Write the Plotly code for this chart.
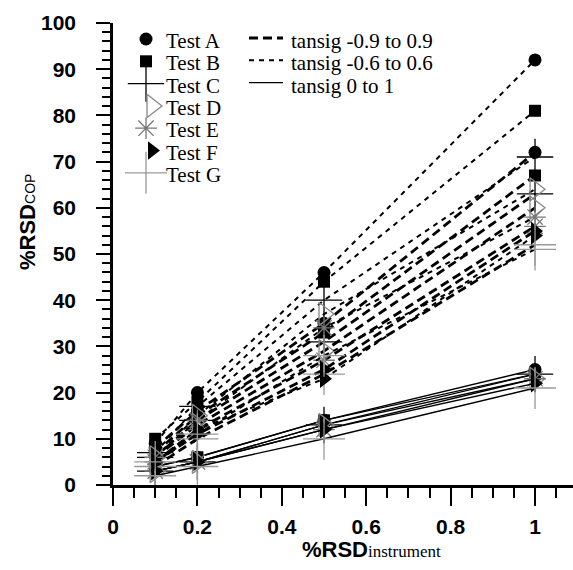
import plotly.graph_objects as go

# ---------------- data ----------------
x_instrument = [0.1, 0.2, 0.5, 1.0]
tests = ["Test A", "Test B", "Test C", "Test D", "Test E", "Test F", "Test G"]
configs = ["tansig -0.9 to 0.9", "tansig -0.6 to 0.6", "tansig 0 to 1"]

# %RSD_COP for each test (rows A..G) at x_instrument
rsd_tansig_09 = [
    [8, 16, 35, 72],
    [7, 15, 33, 67],
    [6, 14, 31, 63],
    [6, 13, 29, 60],
    [5, 12, 27, 56],
    [5, 11, 25, 55],
    [4, 10, 24, 52],
]
rsd_tansig_06 = [
    [9, 20, 46, 92],
    [10, 18, 44, 81],
    [7, 17, 40, 71],
    [6, 15, 37, 64],
    [6, 14, 34, 58],
    [5, 12, 23, 54],
    [5, 11, 28, 51],
]
rsd_tansig_01 = [
    [4, 6, 14, 25],
    [4, 6, 14, 24],
    [3, 5, 13, 24],
    [3, 5, 13, 23],
    [3, 5, 12, 23],
    [3, 5, 12, 22],
    [2, 4, 10, 21],
]

# ---------------- styles ----------------
marker_style = {
    "Test A": dict(symbol="circle", size=13, color="black", line=dict(width=0)),
    "Test B": dict(symbol="square", size=12, color="black", line=dict(width=0)),
    "Test C": dict(symbol="cross-thin", size=26, color="black", line=dict(width=1.3, color="black")),
    "Test D": dict(symbol="triangle-right-open", size=20, color="#888", line=dict(width=1.3, color="#888")),
    "Test E": dict(symbol="asterisk-open", size=18, color="#777", line=dict(width=1.3, color="#777")),
    "Test F": dict(symbol="triangle-right", size=16, color="black", line=dict(width=0)),
    "Test G": dict(symbol="cross-thin-open", size=30, color="#999", line=dict(width=1.3, color="#999")),
}
line_style = {
    "tansig -0.9 to 0.9": dict(color="black", width=2.8, dash="9px,5px"),
    "tansig -0.6 to 0.6": dict(color="black", width=2.0, dash="5px,5px"),
    "tansig 0 to 1": dict(color="black", width=1.4, dash="solid"),
}
series_by_config = {
    "tansig 0 to 1": rsd_tansig_01,
    "tansig -0.9 to 0.9": rsd_tansig_09,
    "tansig -0.6 to 0.6": rsd_tansig_06,
}

fig = go.Figure()
for cfg in ["tansig 0 to 1", "tansig -0.9 to 0.9", "tansig -0.6 to 0.6"]:
    for t, vals in zip(tests, series_by_config[cfg]):
        fig.add_trace(go.Scatter(
            x=x_instrument, y=vals, mode="lines+markers",
            line=line_style[cfg], marker=marker_style[t],
            name=f"{t} {cfg}", showlegend=False, cliponaxis=False,
        ))

# ---------------- layout geometry (pixels) ----------------
W, H = 573, 570
L, R, T, B = 113, 0, 23, 85


def px_to_paper(px, py):
    return (px - L) / (W - L - R), (H - B - py) / (H - B - T)


# ---------------- custom legend (pixel overlay axes) ----------------
serif = "Liberation Serif"
leg_key_x = 146
leg_text_x = 164
leg_top = 41
leg_step = 22.3
key_dx = {"Test D": 6, "Test F": 6}
for i, t in enumerate(tests):
    yy = leg_top + i * leg_step - 2
    fig.add_trace(go.Scatter(
        x=[leg_key_x + key_dx.get(t, 0)], y=[yy], mode="markers",
        marker=marker_style[t], xaxis="x2", yaxis="y2",
        showlegend=False, cliponaxis=False, hoverinfo="skip",
    ))
    fig.add_annotation(x=leg_text_x, y=leg_top + i * leg_step, xref="x2", yref="y2",
                       text=t, showarrow=False, xanchor="left", yanchor="middle",
                       font=dict(family=serif, size=21, color="black"))

line_key_x0, line_key_x1 = 249, 283
line_text_x = 289
for i, cfg in enumerate(configs):
    yy = leg_top + i * leg_step - 3
    fig.add_trace(go.Scatter(
        x=[line_key_x0, line_key_x1], y=[yy, yy], mode="lines",
        line=line_style[cfg], xaxis="x2", yaxis="y2",
        showlegend=False, cliponaxis=False, hoverinfo="skip",
    ))
    fig.add_annotation(x=line_text_x, y=leg_top + i * leg_step, xref="x2", yref="y2",
                       text=cfg, showarrow=False, xanchor="left", yanchor="middle",
                       font=dict(family=serif, size=21, color="black"))

# axis titles
xt, yt = px_to_paper(371, 549)
fig.add_annotation(
    x=xt, y=yt, xref="paper", yref="paper", showarrow=False,
    text="<b>%RSD</b><span style=\"font-family:'Liberation Serif';font-size:17px\">instrument</span>",
    font=dict(family="Liberation Sans", size=22, color="black"), xanchor="center", yanchor="middle",
)
xt, yt = px_to_paper(27, 222)
fig.add_annotation(
    x=xt, y=yt, xref="paper", yref="paper", showarrow=False, textangle=-90,
    text="<b>%RSD</b><span style='font-size:14px'>COP</span>",
    font=dict(family="Liberation Sans", size=22, color="black"), xanchor="center", yanchor="middle",
)

tickfont = dict(family="Liberation Sans", size=21, color="black", weight="bold")
fig.update_layout(
    width=W, height=H,
    margin=dict(l=L, r=R, t=T, b=B, pad=0),
    paper_bgcolor="white", plot_bgcolor="white",
    showlegend=False,
    xaxis=dict(
        range=[0, 1.09], tickmode="linear", tick0=0, dtick=0.2,
        showgrid=False, zeroline=False, showline=True, linecolor="black", linewidth=2.5,
        ticks="outside", ticklen=18, tickwidth=2, tickcolor="black",
        tickfont=tickfont, ticklabelstandoff=3,
        minor=dict(tickmode="linear", tick0=0, dtick=0.05, ticks="outside", ticklen=10,
                   tickwidth=2, tickcolor="black", showgrid=False),
    ),
    yaxis=dict(
        range=[0, 100], tickmode="linear", tick0=0, dtick=10,
        showgrid=False, zeroline=False, showline=True, linecolor="black", linewidth=2.5,
        ticks="outside", ticklen=14, tickwidth=2, tickcolor="black",
        tickfont=tickfont, ticklabelstandoff=16,
        minor=dict(tickmode="linear", tick0=0, dtick=2, ticks="outside", ticklen=8,
                   tickwidth=2, tickcolor="black", showgrid=False),
    ),
    xaxis2=dict(overlaying="x", range=[L, W - R], visible=False, fixedrange=True),
    yaxis2=dict(overlaying="y", range=[H - B, T], visible=False, fixedrange=True),
)

fig.write_html("out.html", config={"displayModeBar": False},
               post_script="document.body.style.margin='0';")
